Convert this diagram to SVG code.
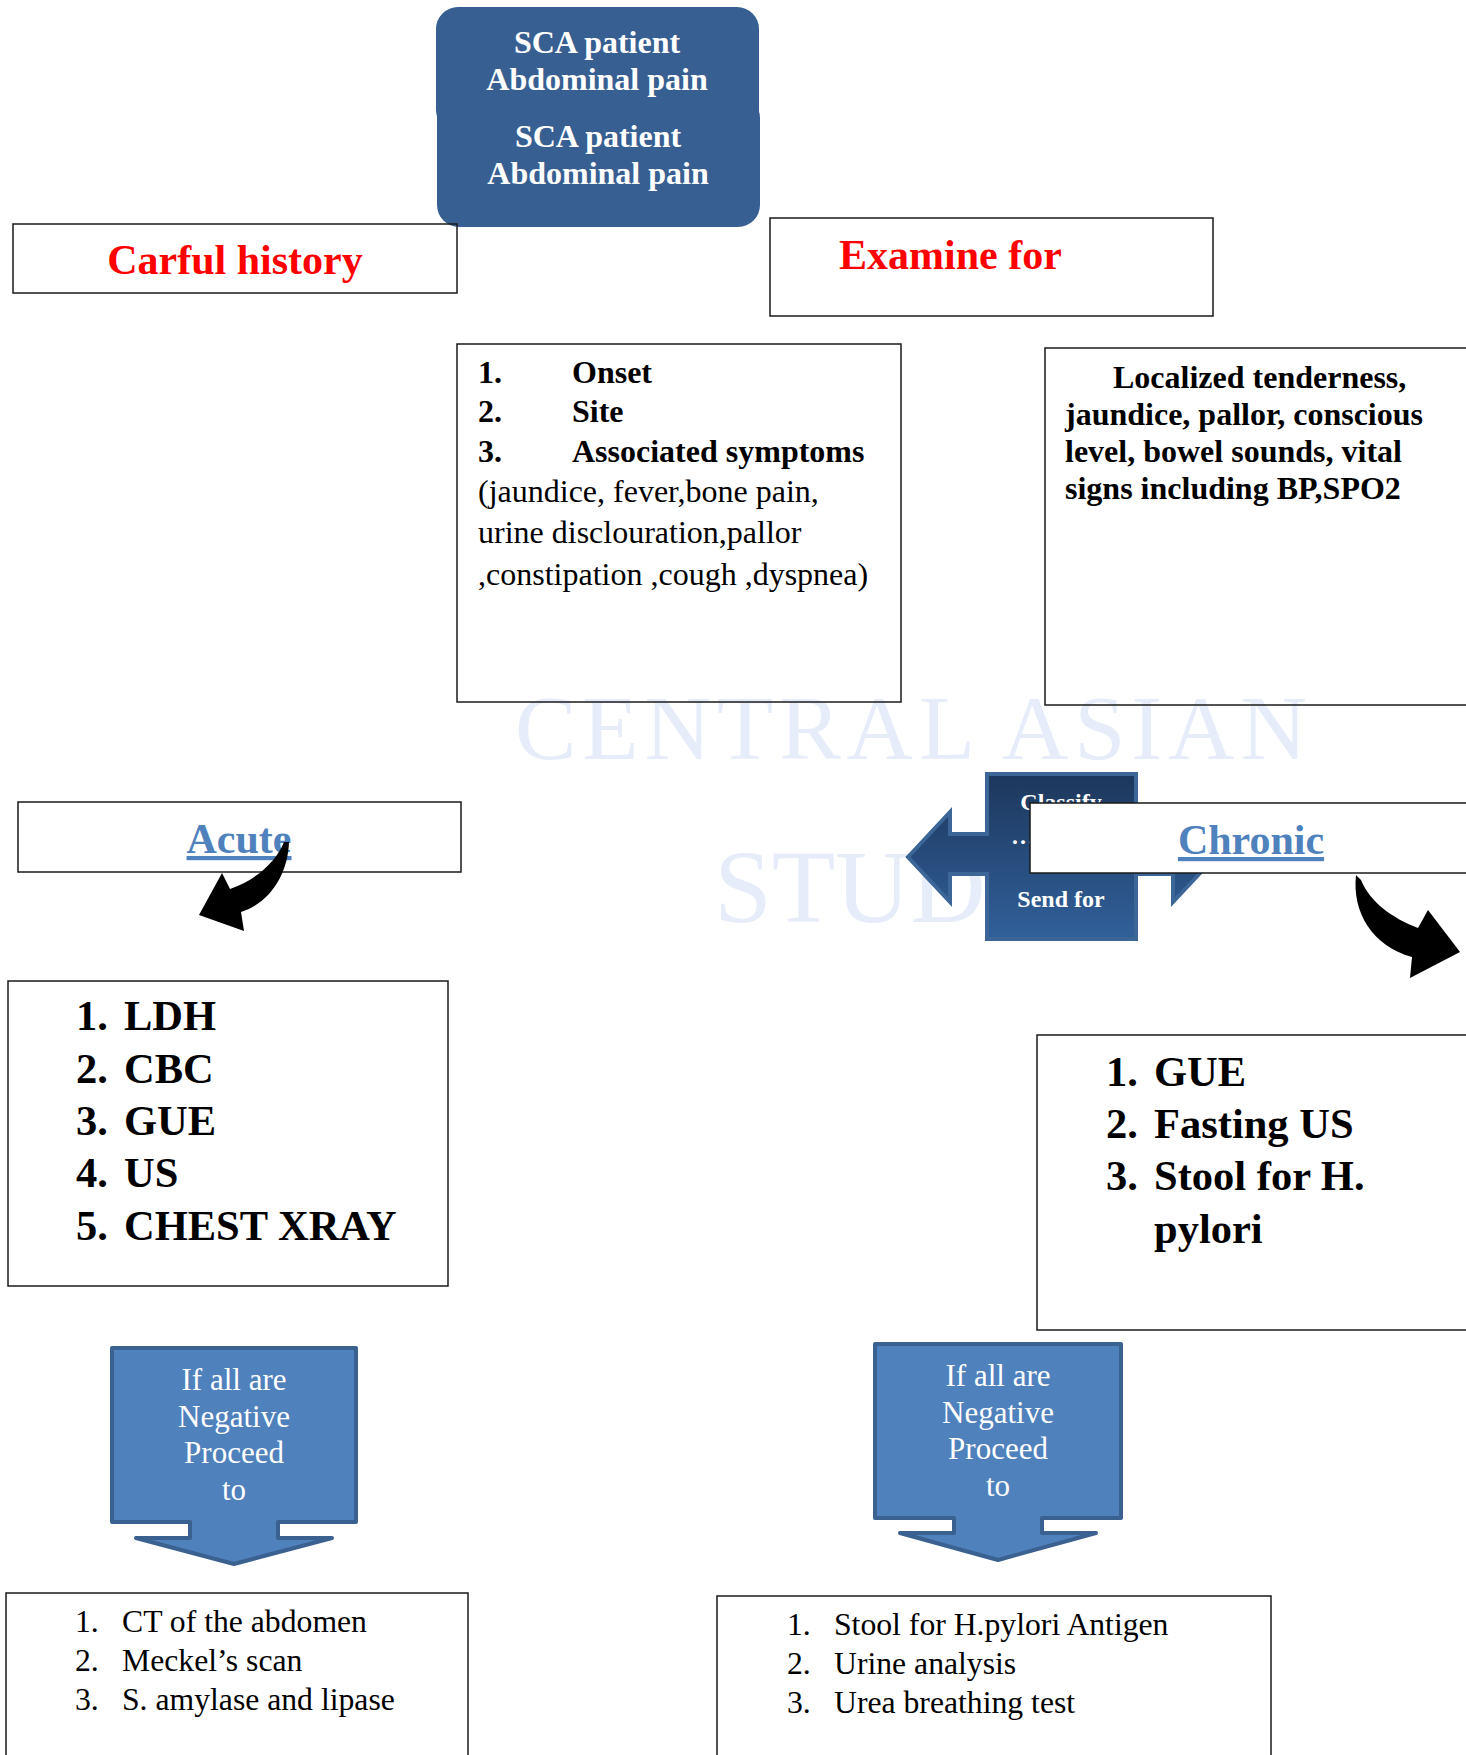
<svg xmlns="http://www.w3.org/2000/svg" width="1466" height="1755" viewBox="0 0 1466 1755">
<style>
.box{fill:none;stroke:#1a1a1a;stroke-width:1.5}
.wbox{fill:#fff;stroke:#1a1a1a;stroke-width:1.5}
.serif{font-family:"Liberation Serif","Times New Roman",serif}
.b{font-weight:bold}
.red{fill:#ff0000;font-size:42px;font-weight:bold}
.lbl{fill:#4f81bd;font-size:42px;font-weight:bold;text-decoration:underline}
.top{fill:#fff;font-size:32px;font-weight:bold}
.t32{fill:#000;font-size:32px}
.t41{fill:#000;font-size:42.5px;font-weight:bold}
.t31{fill:#000;font-size:31.7px}
.callout{fill:#4f81bd;stroke:#3b6190;stroke-width:4;stroke-linejoin:round}
.ct{fill:#fff;font-size:31px}
.wm{fill:#e6ecfa;font-family:"Liberation Serif",serif}
</style>
<defs>
<linearGradient id="gcl" x1="0" y1="0" x2="0" y2="1">
<stop offset="0" stop-color="#1d375c"/>
<stop offset="1" stop-color="#31609a"/>
</linearGradient>
</defs>
<rect width="1466" height="1755" fill="#fff"/>
<g id="watermark">
<text class="wm" x="515" y="759" font-size="92" letter-spacing="6">CENTRAL ASIAN</text>
<text class="wm" x="714" y="922" font-size="104">STUD</text>
</g>
<g id="start">
<rect x="436" y="7" width="323" height="125" rx="22" fill="#385f92"/>
<rect x="437" y="96" width="323" height="131" rx="22" fill="#385f92"/>
<text class="serif top" x="597" y="53" text-anchor="middle">SCA patient</text>
<text class="serif top" x="597" y="90" text-anchor="middle">Abdominal pain</text>
<text class="serif top" x="598" y="147" text-anchor="middle">SCA patient</text>
<text class="serif top" x="598" y="184" text-anchor="middle">Abdominal pain</text>
</g>
<g id="history">
<rect class="box" x="13" y="224" width="444" height="69"/>
<text class="serif red" x="235" y="274" text-anchor="middle">Carful history</text>
</g>
<g id="examine">
<rect class="box" x="770" y="218" width="443" height="98"/>
<text class="serif red" x="839" y="269">Examine for</text>
</g>
<g id="history-list">
<rect class="box" x="457" y="344" width="444" height="358"/>
<text class="serif t32 b" x="478" y="383">1.</text><text class="serif t32 b" x="572" y="383">Onset</text>
<text class="serif t32 b" x="478" y="422">2.</text><text class="serif t32 b" x="572" y="422">Site</text>
<text class="serif t32 b" x="478" y="462">3.</text><text class="serif t32 b" x="572" y="462">Associated symptoms</text>
<text class="serif t32" x="478" y="502">(jaundice, fever,bone pain,</text>
<text class="serif t32" x="478" y="543">urine disclouration,pallor</text>
<text class="serif t32" x="478" y="585">,constipation ,cough ,dyspnea)</text>
</g>
<g id="exam-list">
<rect class="box" x="1045" y="348" width="430" height="357"/>
<text class="serif t32 b" x="1113" y="388">Localized tenderness,</text>
<text class="serif t32 b" x="1065" y="425">jaundice, pallor, conscious</text>
<text class="serif t32 b" x="1065" y="462">level, bowel sounds, vital</text>
<text class="serif t32 b" x="1065" y="499">signs including BP,SPO2</text>
</g>
<g id="acute">
<rect class="box" x="18" y="802" width="443" height="70"/>
<text class="serif lbl" x="239" y="853" text-anchor="middle">Acute</text>
</g>
<g id="classify">
<path d="M908 857 L950 812 L950 834 L987 834 L987 774 L1136 774 L1136 834 L1173 834 L1173 812 L1215 857 L1173 902 L1173 874 L1136 874 L1136 939 L987 939 L987 874 L950 874 L950 902 Z" fill="url(#gcl)" stroke="#3c6698" stroke-width="4"/>
<text class="serif b" x="1061" y="810" fill="#fff" font-size="24" text-anchor="middle">Classify</text>
<text class="serif b" x="1011" y="844" fill="#fff" font-size="24">……</text>
<text class="serif b" x="1061" y="907" fill="#fff" font-size="24" text-anchor="middle">Send for</text>
</g>
<g id="chronic">
<rect class="wbox" x="1030" y="803" width="445" height="70"/>
<text class="serif lbl" x="1251" y="854" text-anchor="middle">Chronic</text>
</g>
<g id="acute-list">
<rect class="box" x="8" y="981" width="440" height="305"/>
<text class="serif t41" x="76" y="1030">1.</text><text class="serif t41" x="124" y="1030">LDH</text>
<text class="serif t41" x="76" y="1083">2.</text><text class="serif t41" x="124" y="1083">CBC</text>
<text class="serif t41" x="76" y="1135">3.</text><text class="serif t41" x="124" y="1135">GUE</text>
<text class="serif t41" x="76" y="1187">4.</text><text class="serif t41" x="124" y="1187">US</text>
<text class="serif t41" x="76" y="1240">5.</text><text class="serif t41" x="124" y="1240">CHEST XRAY</text>
</g>
<g id="chronic-list">
<rect class="box" x="1037" y="1035" width="440" height="295"/>
<text class="serif t41" x="1106" y="1086">1.</text><text class="serif t41" x="1154" y="1086">GUE</text>
<text class="serif t41" x="1106" y="1138">2.</text><text class="serif t41" x="1154" y="1138">Fasting US</text>
<text class="serif t41" x="1106" y="1190">3.</text><text class="serif t41" x="1154" y="1190">Stool for H.</text>
<text class="serif t41" x="1154" y="1243">pylori</text>
</g>
<g id="neg-left">
<path class="callout" d="M112 1348 L356 1348 L356 1522 L278 1522 L278 1538 L332 1538 L234 1564 L136 1538 L190 1538 L190 1522 L112 1522 Z"/>
<text class="serif ct" x="234" y="1390" text-anchor="middle">If all are</text>
<text class="serif ct" x="234" y="1427" text-anchor="middle">Negative</text>
<text class="serif ct" x="234" y="1463" text-anchor="middle">Proceed</text>
<text class="serif ct" x="234" y="1500" text-anchor="middle">to</text>
</g>
<g id="neg-right">
<path class="callout" d="M875 1344 L1121 1344 L1121 1518 L1042 1518 L1042 1533 L1096 1533 L998 1560 L900 1533 L954 1533 L954 1518 L875 1518 Z"/>
<text class="serif ct" x="998" y="1386" text-anchor="middle">If all are</text>
<text class="serif ct" x="998" y="1423" text-anchor="middle">Negative</text>
<text class="serif ct" x="998" y="1459" text-anchor="middle">Proceed</text>
<text class="serif ct" x="998" y="1496" text-anchor="middle">to</text>
</g>
<g id="acute-next">
<rect class="box" x="6" y="1593" width="462" height="180"/>
<text class="serif t31" x="75" y="1632">1.</text><text class="serif t31" x="122" y="1632">CT of the abdomen</text>
<text class="serif t31" x="75" y="1671">2.</text><text class="serif t31" x="122" y="1671">Meckel’s scan</text>
<text class="serif t31" x="75" y="1710">3.</text><text class="serif t31" x="122" y="1710">S. amylase and lipase</text>
</g>
<g id="chronic-next">
<rect class="box" x="717" y="1596" width="554" height="180"/>
<text class="serif t31" x="787" y="1635">1.</text><text class="serif t31" x="834" y="1635">Stool for H.pylori Antigen</text>
<text class="serif t31" x="787" y="1674">2.</text><text class="serif t31" x="834" y="1674">Urine analysis</text>
<text class="serif t31" x="787" y="1713">3.</text><text class="serif t31" x="834" y="1713">Urea breathing test</text>
</g>
<g id="connectors">
<path d="M289 842 C288 872 272 902 241 912 L244 931 L199 915 L222 873 L230 889 C256 880 276 862 284 842 Z" fill="#000"/>
<path d="M1356 875 C1352 912 1372 946 1412 957 L1410 978 L1460 952 L1428 910 L1418 928 C1392 918 1370 902 1361 880 Z" fill="#000"/>
</g>
</svg>
